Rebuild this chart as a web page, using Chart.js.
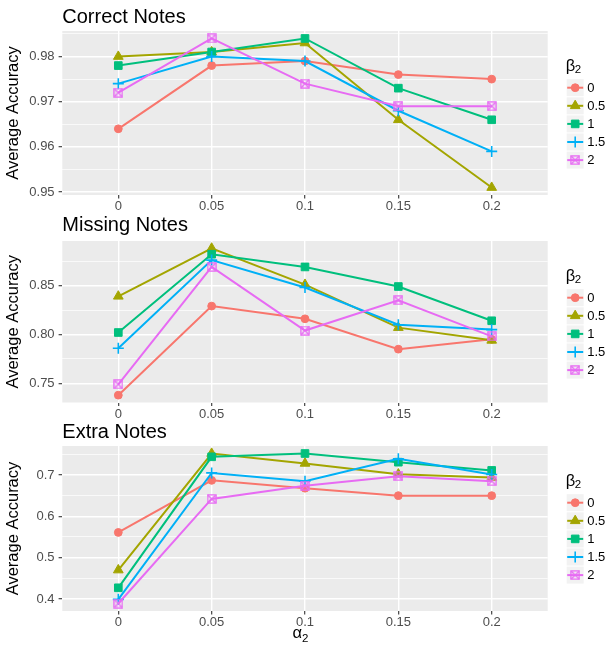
<!DOCTYPE html>
<html>
<head>
<meta charset="utf-8">
<script src="https://cdn.jsdelivr.net/npm/chart.js@4.4.1/dist/chart.umd.min.js"></script>
<style>
  html, body { margin: 0; padding: 0; background: #fff; }
  #wrap { position: relative; width: 605px; height: 646px; overflow: hidden; }
  #wrap canvas { position: absolute; left: 0; }
</style>
</head>
<body>
<div id="wrap">
  <canvas id="correctChart" width="605" height="216" style="top:0px"></canvas>
  <canvas id="missingChart" width="605" height="216" style="top:208px"></canvas>
  <canvas id="extraChart" width="605" height="231" style="top:415px"></canvas>
</div>
<script>
// x categories (alpha_2) and groups (beta_2)
const alphaLabels = ['0', '0.05', '0.1', '0.15', '0.2'];
const betaLabels = ['0', '0.5', '1', '1.5', '2'];
const betaColors = ['#F8766D', '#A3A500', '#00BF7D', '#00B0F6', '#E76BF3'];

// Correct Notes
const correctB0 = [0.964, 0.978, 0.979, 0.976, 0.975];
const correctB05 = [0.980, 0.981, 0.983, 0.966, 0.951];
const correctB1 = [0.978, 0.981, 0.984, 0.973, 0.966];
const correctB15 = [0.974, 0.980, 0.979, 0.968, 0.959];
const correctB2 = [0.972, 0.984, 0.974, 0.969, 0.969];

// Missing Notes
const missingB0 = [0.738, 0.829, 0.816, 0.785, 0.795];
const missingB05 = [0.839, 0.888, 0.851, 0.807, 0.794];
const missingB1 = [0.802, 0.882, 0.869, 0.849, 0.814];
const missingB15 = [0.786, 0.876, 0.848, 0.810, 0.805];
const missingB2 = [0.749, 0.869, 0.804, 0.835, 0.798];

// Extra Notes
const extraB0 = [0.561, 0.687, 0.668, 0.650, 0.650];
const extraB05 = [0.470, 0.752, 0.728, 0.702, 0.694];
const extraB1 = [0.427, 0.744, 0.752, 0.731, 0.711];
const extraB15 = [0.399, 0.705, 0.685, 0.739, 0.701];
const extraB2 = [0.389, 0.642, 0.674, 0.697, 0.685];

// y tick labels (major), minor lines go halfway between
const correctTicks = [0.95, 0.96, 0.97, 0.98];
const missingTicks = [0.75, 0.80, 0.85];
const extraTicks = [0.4, 0.5, 0.6, 0.7];

const FONT = "'Liberation Sans', Arial, sans-serif";

// boxed X marker (ggplot shape 7)
function boxedX(color) {
  const c = document.createElement('canvas');
  c.width = 10; c.height = 10;
  const g = c.getContext('2d');
  g.strokeStyle = color;
  g.lineWidth = 1.3;
  g.strokeRect(0.9, 0.9, 8.2, 8.2);
  g.beginPath();
  g.moveTo(1, 1); g.lineTo(9, 9);
  g.moveTo(9, 1); g.lineTo(1, 9);
  g.stroke();
  return c;
}

const markers = [
  { style: 'circle', radius: 3.9, border: 1 },
  { style: 'triangle', radius: 5.6, border: 1 },
  { style: 'rect', radius: 5.4, border: 1 },
  { style: 'cross', radius: 5.5, border: 1.6 },
  { style: boxedX(betaColors[4]), radius: 5, border: 1 }
];

// grey panel + ggplot style legend + optional x title
const ggPanel = {
  id: 'ggPanel',
  beforeDraw(chart) {
    const a = chart.chartArea, ctx = chart.ctx;
    ctx.save();
    ctx.fillStyle = '#EBEBEB';
    ctx.fillRect(a.left, a.top, a.right - a.left, a.bottom - a.top);
    ctx.restore();
  },
  afterDraw(chart, args, opts) {
    const a = chart.chartArea, ctx = chart.ctx;
    ctx.save();
    // legend title beta_2
    ctx.fillStyle = '#000';
    ctx.textBaseline = 'alphabetic';
    ctx.textAlign = 'left';
    ctx.font = '16.5px ' + FONT;
    ctx.fillText('β', a.right + 18, a.top + 39.5);
    ctx.font = '11.5px ' + FONT;
    ctx.fillText('2', a.right + 27, a.top + 42);

    const keyX = a.right + 19, keyW = 17;
    betaLabels.forEach((lab, i) => {
      const cy = a.top + 56.7 + i * 18.1;
      ctx.fillStyle = '#F2F2F2';
      ctx.fillRect(keyX, cy - keyW / 2, keyW, keyW);
      ctx.strokeStyle = betaColors[i];
      ctx.lineWidth = 2;
      ctx.beginPath();
      ctx.moveTo(keyX + 0.5, cy);
      ctx.lineTo(keyX + keyW - 0.5, cy);
      ctx.stroke();
      const m = markers[i];
      ctx.fillStyle = betaColors[i];
      ctx.lineWidth = m.border;
      if (Chart.helpers && Chart.helpers.drawPoint) {
        Chart.helpers.drawPoint(ctx, { pointStyle: m.style, radius: m.radius, borderWidth: m.border, rotation: 0 }, keyX + keyW / 2, cy);
      }
      ctx.fillStyle = '#000';
      ctx.font = '13px ' + FONT;
      ctx.textBaseline = 'middle';
      ctx.fillText(lab, keyX + keyW + 3.5, cy + 0.5);
    });

    if (opts && opts.xTitle) {
      const cx = (a.left + a.right) / 2 - 4;
      ctx.fillStyle = '#000';
      ctx.textBaseline = 'alphabetic';
      ctx.textAlign = 'right';
      ctx.font = '16.5px ' + FONT;
      ctx.fillText('α', cx + 1, a.bottom + 27);
      ctx.textAlign = 'left';
      ctx.font = '11.5px ' + FONT;
      ctx.fillText('2', cx + 1, a.bottom + 31);
    }
    ctx.restore();
  }
};

function makePanel(id, title, series, majors, step, decimals, layout) {
  // minor lines halfway between the labelled ticks
  const all = [];
  const lo = Math.min(...series.flat()), hi = Math.max(...series.flat());
  const pad = (hi - lo) * 0.05;
  const yMin = lo - pad, yMax = hi + pad;
  for (let k = -1; k < majors.length; k++) {
    if (k >= 0) all.push({ value: majors[k], isMajor: true });
    const base = k >= 0 ? majors[k] : majors[0] - step;
    const mid = base + step / 2;
    if (mid > yMin && mid < yMax) all.push({ value: mid, isMajor: false });
  }
  all.sort((p, q) => p.value - q.value);

  const datasets = series.map((vals, i) => ({
    label: betaLabels[i],
    data: vals.map((v, j) => ({ x: j, y: v })),
    borderColor: betaColors[i],
    backgroundColor: betaColors[i],
    borderWidth: 2,
    tension: 0,
    pointStyle: markers[i].style,
    pointRadius: markers[i].radius,
    pointBorderWidth: markers[i].border,
    order: series.length - 1 - i
  }));

  return new Chart(document.getElementById(id), {
    type: 'line',
    data: { datasets },
    plugins: [ggPanel],
    options: {
      responsive: false,
      animation: false,
      layout: { padding: { left: 0, right: 57.3, top: 0, bottom: 0 } },
      plugins: {
        legend: { display: false },
        tooltip: { enabled: false },
        ggPanel: { xTitle: !!layout.xTitle },
        title: {
          display: true,
          text: title,
          align: 'start',
          fullSize: false,
          color: '#000',
          font: { family: FONT, size: 20, weight: 'normal' },
          padding: { top: 5, bottom: layout.titleBottom }
        }
      },
      scales: {
        x: {
          type: 'linear',
          min: -0.6,
          max: 4.6,
          afterBuildTicks: s => { s.ticks = alphaLabels.map((l, i) => ({ value: i })); },
          afterFit: s => { s.height = layout.xHeight; },
          ticks: {
            autoSkip: false,
            maxRotation: 0,
            padding: 0.5,
            color: '#4D4D4D',
            font: { family: FONT, size: 13 },
            callback: v => alphaLabels[v]
          },
          grid: { color: '#FFFFFF', lineWidth: 1.4, tickLength: 3.5, tickColor: '#333333', tickWidth: 1.1 },
          border: { display: false }
        },
        y: {
          min: yMin,
          max: yMax,
          afterBuildTicks: s => { s.ticks = all.map(t => ({ value: t.value, isMajor: t.isMajor })); },
          afterFit: s => { s.width = 62.3; },
          ticks: {
            autoSkip: false,
            padding: 4,
            color: '#4D4D4D',
            font: { family: FONT, size: 13 },
            callback: (v, i) => all[i].isMajor ? v.toFixed(decimals) : ''
          },
          grid: {
            color: '#FFFFFF',
            lineWidth: c => (c.tick && c.tick.isMajor) ? 1.4 : 0.7,
            tickLength: 3.7,
            tickColor: c => (c.tick && c.tick.isMajor) ? '#333333' : 'rgba(0,0,0,0)',
            tickWidth: 1.1
          },
          border: { display: false },
          title: {
            display: true,
            text: 'Average Accuracy',
            color: '#000',
            font: { family: FONT, size: 16.5 },
            padding: { top: 4, bottom: 0 }
          }
        }
      }
    }
  });
}

makePanel('correctChart', 'Correct Notes',
  [correctB0, correctB05, correctB1, correctB15, correctB2],
  correctTicks, 0.01, 2, { titleBottom: 2, xHeight: 21 });

makePanel('missingChart', 'Missing Notes',
  [missingB0, missingB05, missingB1, missingB15, missingB2],
  missingTicks, 0.05, 2, { titleBottom: 4, xHeight: 21.5 });

makePanel('extraChart', 'Extra Notes',
  [extraB0, extraB05, extraB1, extraB15, extraB2],
  extraTicks, 0.1, 1, { titleBottom: 2, xHeight: 35, xTitle: true });
</script>
</body>
</html>
